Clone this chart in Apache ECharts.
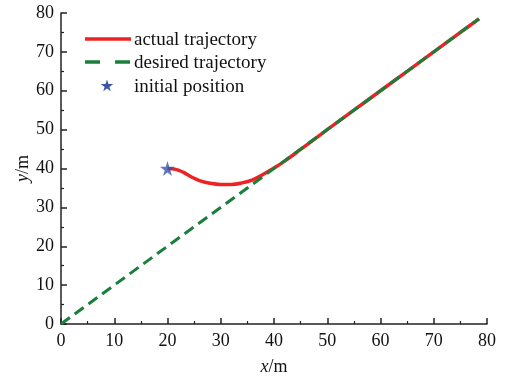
<!DOCTYPE html>
<html>
<head>
<meta charset="utf-8">
<script src="https://cdn.jsdelivr.net/npm/echarts@6/dist/echarts.min.js"></script>
<style>
  html, body { margin: 0; padding: 0; background: #fff; }
  #chart { width: 505px; height: 381px; }
</style>
</head>
<body>
<div id="chart"></div>
<script>
// Actual vehicle path (x, y in metres)
const actualX = [20, 21, 22, 23, 24, 25, 26, 28, 30, 32, 34, 36, 38, 40, 42, 45, 50, 55, 60, 65, 70, 75, 78.5];
const actualY = [40, 39.9, 39.6, 39.0, 38.2, 37.5, 36.9, 36.2, 35.9, 35.9, 36.3, 37.1, 38.5, 40.1, 41.9, 44.9, 50, 55, 60, 65, 70, 75, 78.5];
// Desired straight-line path
const desiredX = [0, 78.5];
const desiredY = [0, 78.5];
// Starting point
const startX = [20];
const startY = [40];
const legendNames = ['actual trajectory', 'desired trajectory', 'initial position'];

const zip = (a, b) => a.map((v, i) => [v, b[i]]);
const FONT = '"Liberation Serif", "Times New Roman", serif';
const AXIS_COLOR = '#222';
const RED = '#ee2222';
const GREEN = '#1a7f3c';
const BLUE = '#3a55a4';
// Five-point star outline on a 100x100 box
const STAR_PTS = [[50,0],[61,35],[98,35],[68,57],[79,91],[50,70],[21,91],[32,57],[2,35],[39,35]];
const STAR = 'path://M' + STAR_PTS.map(p => p.join(',')).join(' L') + ' Z';

const chart = echarts.init(document.getElementById('chart'), null, { renderer: 'canvas' });

function axis(extra) {
  return Object.assign({
    type: 'value',
    min: 0, max: 80, interval: 10,
    axisLine: { show: true, onZero: false, lineStyle: { color: AXIS_COLOR, width: 1.5 } },
    axisTick: { show: true, inside: true, length: 6, lineStyle: { color: AXIS_COLOR, width: 1.5 } },
    minorTick: { show: true, splitNumber: 2, length: 3, lineStyle: { color: AXIS_COLOR, width: 1.2 } },
    splitLine: { show: false },
    axisLabel: { color: '#111', fontFamily: FONT, fontSize: 18 }
  }, extra);
}

const nameStyle = {
  color: '#111', fontFamily: FONT, fontSize: 18,
  rich: { i: { fontStyle: 'italic', fontFamily: FONT, fontSize: 18, color: '#111' } }
};

// Legend drawn as a small key: sample line / marker plus label per row
const rowY = [39, 62, 86];
const keyLeft = 85, keyRight = 131, textLeft = 134;
const starSize = 13, starCx = 107;
const legendGraphics = [
  { type: 'line', shape: { x1: keyLeft, y1: rowY[0], x2: keyRight, y2: rowY[0] },
    style: { stroke: RED, lineWidth: 3.5 } },
  { type: 'line', shape: { x1: keyLeft, y1: rowY[1], x2: keyRight, y2: rowY[1] },
    style: { stroke: GREEN, lineWidth: 3.5, lineDash: [15, 15] } },
  { type: 'polygon',
    shape: { points: STAR_PTS.map(p => [starCx + (p[0] - 50) * starSize / 100, rowY[2] + (p[1] - 50) * starSize / 100]) },
    style: { fill: BLUE } }
].concat(legendNames.map((n, i) => ({
  type: 'text', x: textLeft, y: rowY[i] + 1,
  style: { text: n, font: '19px ' + FONT, fill: '#111', verticalAlign: 'middle' }
})));

chart.setOption({
  animation: false,
  grid: { left: 61, right: 18, top: 13, bottom: 57 },
  xAxis: axis({
    name: '{i|x}/m', nameLocation: 'middle', nameGap: 34, nameTextStyle: nameStyle,
    nameMoveOverlap: false,
    axisLabel: { color: '#111', fontFamily: FONT, fontSize: 18, margin: 8 }
  }),
  yAxis: axis({
    name: '{i|y}/m', nameLocation: 'middle', nameGap: 29, nameRotate: 90, nameTextStyle: nameStyle,
    nameMoveOverlap: false,
    axisLabel: { color: '#111', fontFamily: FONT, fontSize: 18, margin: 7 }
  }),
  graphic: legendGraphics,
  series: [
    {
      name: legendNames[1],
      type: 'line',
      data: zip(desiredX, desiredY),
      showSymbol: false, symbol: 'none',
      lineStyle: { color: GREEN, width: 3, type: [11, 6] },
      z: 3
    },
    {
      name: legendNames[0],
      type: 'line',
      data: zip(actualX, actualY),
      smooth: 0.4,
      showSymbol: false, symbol: 'none',
      lineStyle: { color: RED, width: 3.5 },
      z: 2
    },
    {
      name: legendNames[2],
      type: 'scatter',
      data: zip(startX, startY),
      symbol: STAR,
      symbolSize: 15,
      itemStyle: { color: BLUE },
      z: 4
    }
  ]
});
</script>
</body>
</html>
